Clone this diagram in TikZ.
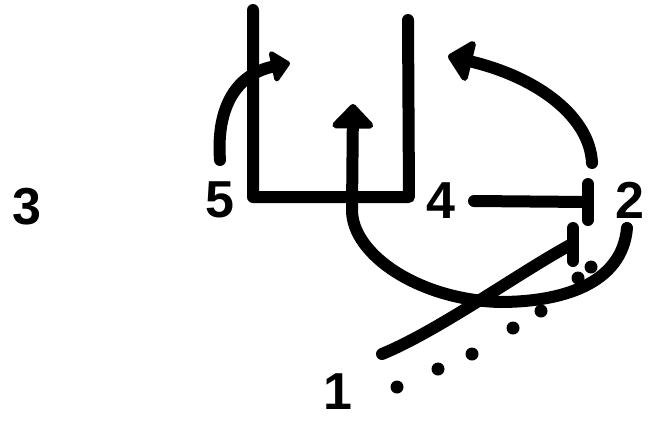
\documentclass[tikz,border=0pt]{standalone}
\usepackage{fontspec}
\setmainfont{Liberation Sans}
\usetikzlibrary{arrows.meta}
\begin{document}
\begin{tikzpicture}[x=1pt,y=-1pt,
  route/.style={line width=12pt,line cap=round,line join=round},
  bigtip/.style={-{Triangle[length=26pt,width=48pt,round]}},
  midtip/.style={-{Triangle[length=20pt,width=36pt,round]}},
  lbl/.style={font=\fontsize{52}{52}\selectfont\bfseries,inner sep=0pt},
  dot/.style={circle,fill,inner sep=0pt,minimum size=13pt}]
\useasboundingbox (0,0) rectangle (662,421);
% labels
\node[lbl] (p3) at (27,207) {3};
\node[lbl] (p5) at (220,200) {5};
\node[lbl] (p4) at (441,201) {4};
\node[lbl] (p2) at (630,200) {2};
\node[lbl] (p1) at (338,392) {1};
% route of 5 (L-shape)
\coordinate (a1) at (253,10);
\coordinate (a2) at (253,197);
\coordinate (a3) at (409,197);
\coordinate (a4) at (408,20);
\draw[route] (a1) -- (a2) -- (a3) -- (a4);
% curved arrow from 5
\coordinate (b1) at (220,160);
\coordinate (b2) at (290,63);
\draw[route,midtip] (b1) .. controls (216,105) and (238,74) .. (b2);
% big arc with arrow up
\coordinate (c1) at (627,228);
\coordinate (c2) at (500,302);
\coordinate (c3) at (353,104);
\draw[route,bigtip] (c1) .. controls (622,285) and (560,302) .. (c2)
  .. controls (420,300) and (352,255) .. (352,210) -- (c3);
% arrow from 2
\coordinate (d1) at (592,163);
\coordinate (d2) at (448,56);
\draw[route,bigtip] (d1) .. controls (590,118) and (540,78) .. (d2);
% 4 to 2 line with bar
\coordinate (e1) at (474,201);
\coordinate (e2) at (587,202);
\coordinate (e3) at (588,184);
\coordinate (e4) at (588,220);
\draw[route] (e1) -- (e2);
\draw[route] (e3) -- (e4);
% 1 line with bar
\coordinate (f1) at (382,354);
\coordinate (f2) at (572,244);
\coordinate (f3) at (573,228);
\coordinate (f4) at (573,261);
\draw[route] (f1) .. controls (440,330) and (520,272) .. (f2);
\draw[route] (f3) -- (f4);
% dots
\foreach \x/\y [count=\i] in {397/387,438/369,472/354,513/328,541/311,578/278,591/267}
  \node[dot] (dt\i) at (\x,\y) {};
\end{tikzpicture}
\end{document}
